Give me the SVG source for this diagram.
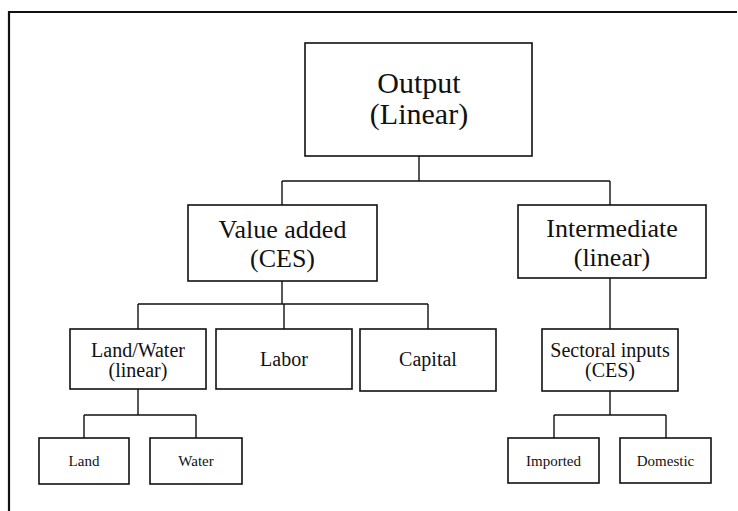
<svg xmlns="http://www.w3.org/2000/svg" width="738" height="511" viewBox="0 0 738 511">
<style>
.box{fill:#fff;stroke:#111;stroke-width:1.6}
.con{fill:none;stroke:#111;stroke-width:1.4}
.frame{fill:none;stroke:#111;stroke-width:2.2}
text{font-family:"Liberation Serif","Times New Roman",serif;fill:#111;text-anchor:middle}
.t1{font-size:30px}
.t2{font-size:26px}
.t3{font-size:20px}
.t4{font-size:15px}
</style>
<rect width="738" height="511" fill="#fff"/>
<g id="frame">
<path class="frame" d="M9 511 V12 H737"/>
</g>
<g id="connectors">
<path class="con" d="M419 156 V181 M282 181 H610 M282 181 V205 M610 181 V205"/>
<path class="con" d="M282 281 V304 M138 304 H428 M138 304 V329 M284 304 V329 M428 304 V329"/>
<path class="con" d="M610 278 V329"/>
<path class="con" d="M138 389 V415 M84 415 H196 M84 415 V438 M196 415 V438"/>
<path class="con" d="M610 391 V415 M554 415 H666 M554 415 V438 M666 415 V438"/>
</g>
<g id="output">
<rect class="box" x="305" y="43" width="227" height="113"/>
<text class="t1" x="419" y="93">Output</text>
<text class="t1" x="419" y="124">(Linear)</text>
</g>
<g id="value-added">
<rect class="box" x="188" y="205" width="189" height="76"/>
<text class="t2" x="282.5" y="238">Value added</text>
<text class="t2" x="282.5" y="267">(CES)</text>
</g>
<g id="intermediate">
<rect class="box" x="518" y="205" width="188" height="73"/>
<text class="t2" x="612" y="237">Intermediate</text>
<text class="t2" x="612" y="266">(linear)</text>
</g>
<g id="land-water">
<rect class="box" x="70" y="329" width="136" height="60"/>
<text class="t3" x="138" y="357">Land/Water</text>
<text class="t3" x="138" y="377">(linear)</text>
</g>
<g id="labor">
<rect class="box" x="216" y="329" width="136" height="60"/>
<text class="t3" x="284" y="366">Labor</text>
</g>
<g id="capital">
<rect class="box" x="360" y="329" width="136" height="62"/>
<text class="t3" x="428" y="366">Capital</text>
</g>
<g id="sectoral-inputs">
<rect class="box" x="542" y="329" width="136" height="62"/>
<text class="t3" x="610" y="357">Sectoral inputs</text>
<text class="t3" x="610" y="377">(CES)</text>
</g>
<g id="land">
<rect class="box" x="39" y="438" width="90" height="46"/>
<text class="t4" x="84" y="466">Land</text>
</g>
<g id="water">
<rect class="box" x="150" y="438" width="92" height="46"/>
<text class="t4" x="196" y="466">Water</text>
</g>
<g id="imported">
<rect class="box" x="508" y="438" width="91" height="45"/>
<text class="t4" x="553.5" y="466">Imported</text>
</g>
<g id="domestic">
<rect class="box" x="620" y="438" width="91" height="45"/>
<text class="t4" x="665.5" y="466">Domestic</text>
</g>
</svg>
